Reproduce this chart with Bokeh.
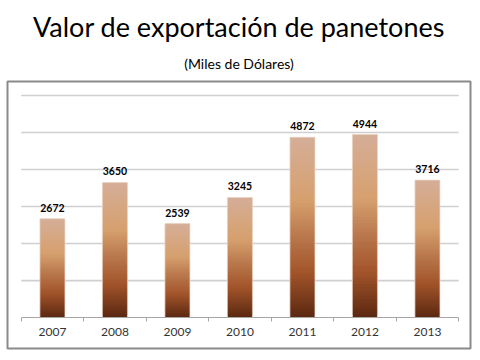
from bokeh.plotting import figure
from bokeh.models import Title, FixedTicker, LinearAxis
from bokeh.embed import file_html
from bokeh.resources import INLINE
from bokeh.core.properties import value

years = ["2007", "2008", "2009", "2010", "2011", "2012", "2013"]
values = [2672, 3650, 2539, 3245, 4872, 4944, 3716]
grid_values = [1000, 2000, 3000, 4000, 5000, 6000]

centers = [i + 0.5 for i in range(len(years))]
bar_half = 0.2

# gradient stops: fraction from top of bar -> colour
stops = [(0.0, (0xd5, 0xae, 0x98)), (0.35, (0xd6, 0xa0, 0x6e)), (0.55, (0xb9, 0x78, 0x4c)),
         (0.75, (0xa2, 0x54, 0x2a)), (1.0, (0x5a, 0x28, 0x10))]

def grad(t):
    for (t0, c0), (t1, c1) in zip(stops[:-1], stops[1:]):
        if t <= t1:
            f = (t - t0) / (t1 - t0) if t1 > t0 else 0
            return "#%02x%02x%02x" % tuple(int(round(a + (b - a) * f)) for a, b in zip(c0, c1))
    return "#%02x%02x%02x" % stops[-1][1]

p = figure(width=480, height=360, x_range=(-0.219, 7.189), y_range=(-834, 6377),
           output_backend="svg", toolbar_location=None, title=None,
           min_border_left=7, min_border_right=10, min_border_top=80, min_border_bottom=12,
           x_axis_type=None, y_axis_type=None)
p.outline_line_color = "#8a8a8a"
p.outline_line_width = 2
p.xgrid.visible = False
p.ygrid.visible = False
p.background_fill_color = "white"

# gridlines
n = len(years)
p.segment(x0=[0] * len(grid_values), x1=[n] * len(grid_values), y0=grid_values, y1=grid_values,
          line_color="#d0d0d0", line_width=1.6)

# gradient bars
N = 60
L, R, B, T, C = [], [], [], [], []
for c, v in zip(centers, values):
    for i in range(N):
        L.append(c - bar_half); R.append(c + bar_half)
        B.append(v * i / N); T.append(min(v, v * (i + 2) / N))
        C.append(grad(1 - (i + 0.5) / N))
p.quad(left=L, right=R, bottom=B, top=T, fill_color=C, line_color=None)
p.quad(left=[c - bar_half for c in centers], right=[c + bar_half for c in centers],
       bottom=[0] * n, top=values, fill_color=None, line_color="#f0dccd", line_width=1, line_alpha=0.7)

# value labels
p.text(x=centers, y=values, text=[str(v) for v in values], text_align="center", text_baseline="bottom",
       y_offset=-7, text_font=value("Lato"), text_font_style="bold", text_font_size="10.5px", text_color="black")

# x axis inside the frame at y=0
ax = LinearAxis(fixed_location=0, bounds=(0, n),
                ticker=FixedTicker(ticks=centers, minor_ticks=list(range(n + 1))),
                major_label_overrides={c: y for c, y in zip(centers, years)})
ax.axis_line_color = "#a6a6a6"
ax.axis_line_width = 1
ax.major_tick_line_color = None
ax.minor_tick_line_color = "#a6a6a6"
ax.minor_tick_in = 0
ax.minor_tick_out = 4
ax.major_label_text_font = "Lato"
ax.major_label_text_font_size = "12px"
ax.major_label_text_color = "#333333"
ax.major_label_standoff = 4
p.add_layout(ax, "below")

p.add_layout(Title(text="(Miles de Dólares)", align="center", text_font="Lato", text_font_size="14px",
                   text_font_style="normal", text_color="black", standoff=20), "above")
p.add_layout(Title(text="Valor de exportación de panetones", align="center", text_font="Lato",
                   text_font_size="27px", text_font_style="normal", text_color="black", standoff=0), "above")
p.add_layout(Title(text=" ", text_font_size="4px", standoff=0), "above")

open("out.html", "w").write(file_html(p, INLINE))
